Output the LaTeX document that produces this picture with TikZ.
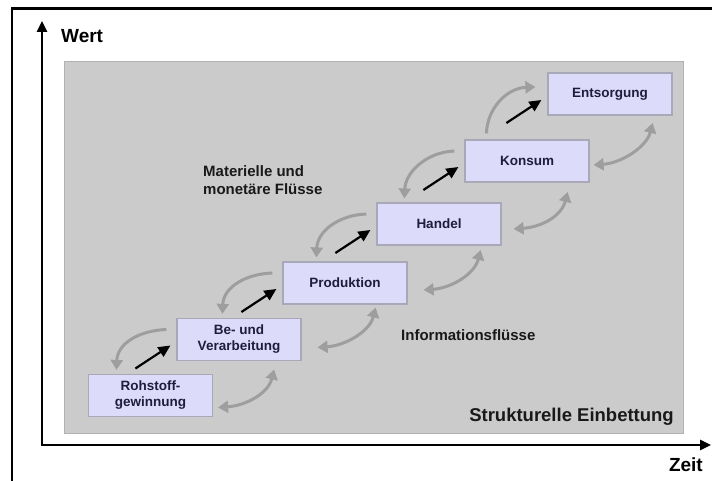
\documentclass[tikz,border=0pt]{standalone}
\usepackage{fontspec}
\setmainfont{Liberation Sans}
\usetikzlibrary{arrows.meta,calc}
\definecolor{panel}{HTML}{CBCBCB}
\definecolor{panelline}{HTML}{B2B2B2}
\definecolor{boxfill}{HTML}{DCDCFA}
\definecolor{boxline}{HTML}{A8A8B8}
\definecolor{boxtext}{HTML}{1E1E3C}
\definecolor{flow}{HTML}{9E9E9E}
\tikzset{
  stage/.style={draw=boxline, line width=1.2pt, fill=boxfill, minimum width=124pt,
    minimum height=42pt, inner sep=0pt, align=center,
    font=\fontsize{13.5}{16}\selectfont\bfseries, text=boxtext},
  matflow/.style={black, line width=2.2pt, -{Triangle[length=12pt,width=11pt]}},
  backflow/.style={flow, line width=3pt, -{Triangle[length=10pt,width=12pt]}},
  upflow/.style={flow, line width=3pt, {Triangle[length=10pt,width=12pt]}-},
  infoflow/.style={flow, line width=3pt,
    {Triangle[length=10pt,width=12pt]}-{Triangle[length=10pt,width=12pt]}},
  axis/.style={black, line width=2.5pt, -{Triangle[length=11pt,width=10pt]}},
  lbl/.style={font=\fontsize{15}{18.5}\selectfont\bfseries, text=black!90, inner sep=0pt, align=left},
  biglbl/.style={font=\fontsize{18.5}{22}\selectfont\bfseries, text=black!90, inner sep=0pt},
  axlbl/.style={font=\fontsize{19}{22}\selectfont\bfseries, text=black, inner sep=0pt},
}
\begin{document}
\begin{tikzpicture}[x=1pt,y=-1pt]
\path[use as bounding box] (0,0) rectangle (712,481);
% frame
\draw[line width=2.5pt] (12,481) -- (12,8.5) -- (712,8.5);
% panel
\filldraw[fill=panel, draw=panelline, line width=1pt] (64,62) rectangle (683,433);
% axes
\coordinate (origin) at (41,445);
\coordinate (ytip) at (42,21);
\coordinate (xtip) at (711,445);
\draw[axis] (42,446) -- (ytip);
\draw[axis] (origin) -- (xtip);
\node[axlbl, anchor=west] (wert) at (61,36) {Wert};
\node[axlbl, anchor=east] (zeit) at (703,465) {Zeit};
% labels
\node[lbl, anchor=west] (mat) at (203,180) {Materielle und\\monetäre Flüsse};
\node[lbl, anchor=west] (info) at (401,335) {Informationsflüsse};
\node[biglbl, anchor=east] (emb) at (674,417) {Strukturelle Einbettung};
% stages
\node[stage] (R) at (150.5,395.5) {Rohstoff-\\gewinnung};
\node[stage] (B) at (239,339.5) {Be- und\\Verarbeitung};
\node[stage] (P) at (345,283) {Produktion};
\node[stage] (H) at (439,224) {Handel};
\node[stage] (K) at (527,161) {Konsum};
\node[stage] (E) at (610,94) {Entsorgung};
% material flows
\foreach \u in {B,P,H,K,E}{
  \draw[matflow] ([shift={(-41,29)}]\u.west) -- ([shift={(-6,6)}]\u.west);
}
% back flows (curved, gray)
\foreach \u/\l in {B/R,P/B,H/P,K/H}{
  \draw[backflow] ([shift={(-10,-10)}]\u.west) .. controls +(-28,1) and +(1,-26) .. ($(\u.west |- \l.north)+(-60,-4)$);
}
\draw[upflow] ([shift={(-12,-7)}]E.west) .. controls +(-28,1) and +(1,-26) .. ($(E.west |- K.north)+(-61,-6)$);
% information flows
\draw[infoflow] ([shift={(5,12)}]R.east) .. controls +(28,-2) and +(-6,24) .. ([shift={(61,-26)}]R.east);
\draw[infoflow] ([shift={(16,8)}]B.east) .. controls +(28,-2) and +(-6,24) .. ([shift={(74,-32)}]B.east);
\draw[infoflow] ([shift={(16,7)}]P.east) .. controls +(28,-2) and +(-6,24) .. ([shift={(73,-33)}]P.east);
\draw[infoflow] ([shift={(12,5)}]H.east) .. controls +(28,-2) and +(-6,24) .. ([shift={(66,-32)}]H.east);
\draw[infoflow] ([shift={(4,4)}]K.east) .. controls +(28,-2) and +(-6,24) .. ([shift={(63,-38)}]K.east);
\end{tikzpicture}
\end{document}
